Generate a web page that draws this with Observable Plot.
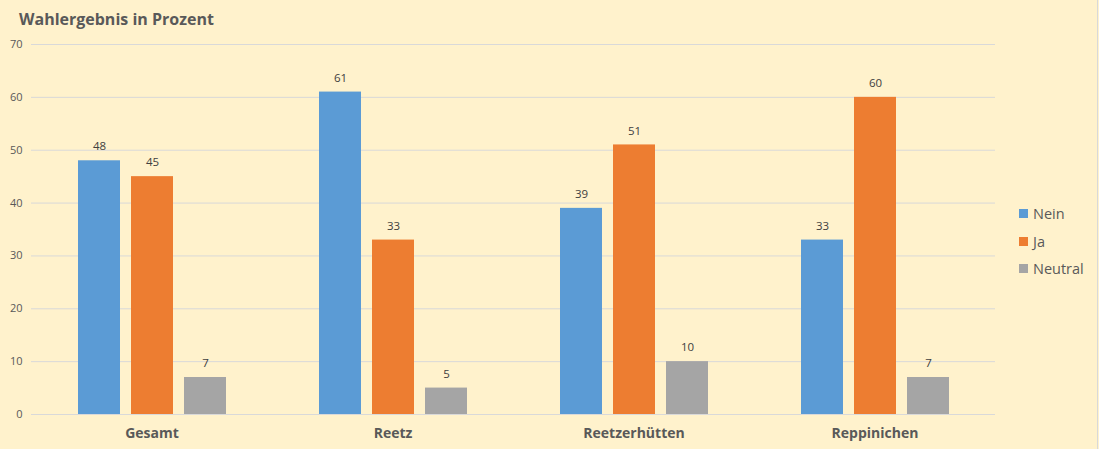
<!DOCTYPE html>
<html><head><meta charset="utf-8">
<script src="https://cdn.jsdelivr.net/npm/d3@7"></script>
<script src="https://cdn.jsdelivr.net/npm/@observablehq/plot@0.6"></script>
<style>
html,body{margin:0;padding:0;background:#FFF2CC;}
#wrap{position:relative;width:1099px;height:449px;background:#FFF2CC;font-family:"Open Sans",sans-serif;overflow:hidden;}
#title{position:absolute;left:19px;top:8px;font-size:16px;font-weight:700;color:#595959;}
#legend{position:absolute;left:1019px;top:200px;font-size:14.5px;color:#595959;}
#legend div{height:27.5px;display:flex;align-items:center;}
#legend span.sw{display:inline-block;width:9px;height:9px;margin-right:5px;}
#border{position:absolute;right:1px;top:0;width:1px;height:449px;background:#d9d9d9;}
</style></head>
<body><div id="wrap"><div id="chart"></div><div id="title">Wahlergebnis in Prozent</div><div id="legend"></div><div id="border"></div></div>
<script>
const categories = ["Gesamt", "Reetz", "Reetzerhütten", "Reppinichen"];
const series = ["Nein", "Ja", "Neutral"];
const nein = [48, 61, 39, 33];
const ja = [45, 33, 51, 60];
const neutral = [7, 5, 10, 7];
const colors = ["#5B9BD5", "#ED7D31", "#A5A5A5"];
const yTicks = [0, 10, 20, 30, 40, 50, 60, 70];

const values = [nein, ja, neutral];
const data = [];
categories.forEach((c, i) => series.forEach((s, j) => data.push({cat: c, series: s, value: values[j][i]})));

const chart = Plot.plot({
  width: 1099, height: 449,
  marginTop: 44, marginBottom: 35, marginLeft: 29, marginRight: 103,
  style: {background: "transparent", fontFamily: "Open Sans, sans-serif"},
  fx: {domain: categories, padding: 0, label: null},
  x: {domain: series, paddingInner: 0.215, paddingOuter: 0.867, axis: null},
  y: {domain: [0, 70], range: [414, 44], ticks: yTicks, label: null},
  color: {domain: series, range: colors},
  marks: [
    Plot.gridY(yTicks, {stroke: "#d9d9d9", strokeOpacity: 1, strokeWidth: 1}),
    Plot.axisY(yTicks, {tickSize: 0, tickPadding: 9, fontSize: 11, fill: "#595959", label: null}),
    Plot.axisFx({anchor: "bottom", tickSize: 0, tickPadding: 14, fontSize: 14, fontWeight: 700, fill: "#595959", label: null}),
    Plot.barY(data, {fx: "cat", x: "series", y: "value", fill: "series"}),
    Plot.text(data, {fx: "cat", x: "series", y: "value", text: d => String(d.value), dy: -14, fontSize: 11.5, fill: "#404040"})
  ]
});
document.getElementById("chart").appendChild(chart);

const lg = document.getElementById("legend");
series.forEach((s, j) => {
  const d = document.createElement("div");
  d.innerHTML = `<span class="sw" style="background:${colors[j]}"></span>${s}`;
  lg.appendChild(d);
});
</script></body></html>
